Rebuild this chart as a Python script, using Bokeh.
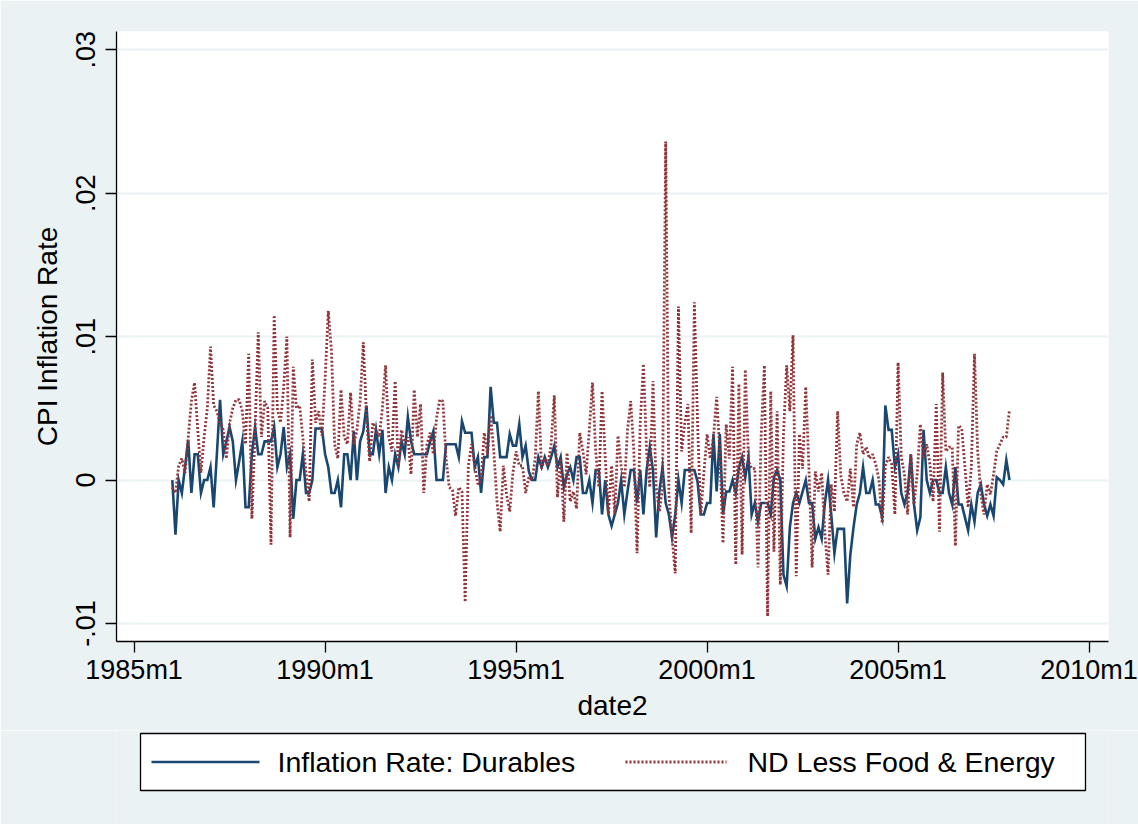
import pandas as pd
from bokeh.plotting import figure
from bokeh.layouts import column
from bokeh.models import FixedTicker, Range1d
from bokeh.core.properties import value
from bokeh.embed import file_html
from bokeh.resources import INLINE

# Monthly observations, 1986m1 .. 2007m12
months = pd.period_range("1986-01", "2007-12", freq="M")

# CPI inflation rate, durables (monthly change)
durables = [
    0.0, -0.0038, 0.0, -0.0009, 0.0009, 0.0028, -0.0009, 0.0018, 0.0018, -0.0009, 0.0, 0.0,
    0.0009, -0.0019, 0.0018, 0.0056, 0.0018, 0.0027, 0.0037, 0.0027, 0.0, 0.0013, 0.0027, -0.0019,
    -0.0019, 0.0018, 0.0037, 0.0018, 0.0018, 0.0027, 0.0027, 0.0027, 0.0037, 0.0009, 0.0018, 0.0037,
    0.0009, 0.0018, -0.0027, 0.0, 0.0, 0.0018, -0.0009, -0.0009, 0.0, 0.0036, 0.0036, 0.0036,
    0.0018, 0.0009, -0.0009, -0.0009, 0.0, -0.0019, 0.0018, 0.0018, 0.0, 0.0034, 0.0, 0.0027,
    0.0034, 0.0052, 0.0018, 0.0018, 0.0035, 0.0018, 0.0035, -0.0009, 0.0009, 0.0, 0.0018, 0.0009,
    0.0027, 0.0018, 0.0044, 0.0027, 0.0018, 0.0018, 0.0018, 0.0018, 0.0018, 0.0027, 0.0034, 0.0,
    0.0, 0.0, 0.0025, 0.0025, 0.0025, 0.0025, 0.0016, 0.0041, 0.0033, 0.0033, 0.0033, 0.0009,
    0.0016, -0.0009, 0.0016, 0.0016, 0.0065, 0.0040, 0.0040, 0.0016, 0.0016, 0.0016, 0.0032, 0.0024,
    0.0024, 0.0039, 0.0016, 0.0024, 0.0006, 0.0, 0.0, 0.0016, 0.0009, 0.0016, 0.0009, 0.0016,
    0.0024, 0.0009, 0.0016, -0.0005, 0.0004, 0.0009, 0.0, 0.0016, 0.0016, -0.0009, -0.0009, 0.0,
    -0.0016, 0.0007, 0.0007, -0.0024, 0.0, -0.0024, -0.0032, -0.0024, -0.0016, 0.0, -0.0024, -0.0008,
    0.0007, 0.0007, -0.0016, 0.0007, -0.0024, 0.0007, 0.0023, 0.0007, -0.0040, -0.0008, 0.0009, -0.0016,
    -0.0024, -0.0040, -0.0024, 0.0, -0.0016, 0.0007, 0.0007, 0.0007, 0.0007, -0.0001, -0.0024, -0.0024,
    -0.0016, -0.0016, 0.0032, -0.0008, 0.0032, -0.0024, -0.0008, -0.0008, 0.0, -0.0009, 0.0009, 0.0016,
    0.0002, 0.0016, -0.0024, -0.0016, -0.0029, -0.0016, -0.0016, -0.0016, -0.0024, 0.0002, 0.0007, 0.0,
    -0.0066, -0.0074, -0.0033, -0.0016, -0.0009, -0.0016, -0.0008, 0.0, -0.0016, -0.0016, -0.0041, -0.0033,
    -0.0041, -0.0016, 0.0, -0.0024, -0.0051, -0.0034, -0.0034, -0.0034, -0.0086, -0.0052, -0.0033, -0.0017,
    -0.0009, 0.0009, -0.0009, -0.0009, 0.0, -0.0017, -0.0017, -0.0026, 0.0052, 0.0035, 0.0035, 0.0009,
    0.0018, -0.0009, -0.0017, -0.0009, 0.0018, -0.0017, -0.0035, -0.0026, 0.0035, 0.0, -0.0009, 0.0,
    0.0, -0.0009, -0.0009, 0.0009, -0.0009, -0.0017, 0.0009, -0.0017, -0.0017, -0.0026, -0.0035, -0.0017,
    -0.0029, -0.0009, -0.0003, -0.0017, -0.0025, -0.0017, -0.0025, 0.0002, 0.0, -0.0003, 0.0014, 0.0,
]

# CPI inflation rate, nondurables less food and energy (monthly change)
nd_core = [
    -0.0005, -0.0009, 0.0010, 0.0015, 0.0005, 0.0030, 0.0055, 0.0068, 0.0035, 0.0005, 0.0030, 0.0050,
    0.0093, 0.0052, 0.0048, 0.0040, 0.0035, 0.0015, 0.0040, 0.0050, 0.0056, 0.0056, 0.0048, 0.0025,
    0.0088, -0.0027, 0.0035, 0.0103, 0.0030, 0.0055, 0.0050, -0.0045, 0.0115, 0.0050, 0.0040, 0.0065,
    0.0100, -0.0040, 0.0079, 0.0050, 0.0052, 0.0030, 0.0005, -0.0015, 0.0084, 0.0040, 0.0048, 0.0031,
    0.0070, 0.0118, 0.0090, 0.0025, 0.0015, 0.0063, 0.0030, 0.0025, 0.0061, 0.0025, 0.0035, 0.0055,
    0.0096, 0.0045, 0.0013, 0.0040, 0.0035, 0.0030, 0.0050, 0.0080, 0.0030, 0.0020, 0.0069, 0.0009,
    0.0035, 0.0025, 0.0030, 0.0004, 0.0063, 0.0030, 0.0053, -0.0009, 0.0025, 0.0033, 0.0018, 0.0043,
    0.0056, 0.0055, 0.0015, -0.0005, -0.0007, -0.0025, -0.0005, -0.0008, -0.0085, 0.0010, 0.0025, 0.0010,
    -0.0003, 0.0, 0.0033, 0.0018, 0.0045, 0.0020, -0.0015, -0.0036, 0.0010, -0.0010, -0.0022, 0.0005,
    0.0020, 0.0010, 0.0010, -0.0009, 0.0002, 0.0, 0.0015, 0.0062, 0.0008, 0.0015, 0.0010, 0.0025,
    0.0059, -0.0012, 0.0015, -0.0029, 0.0019, -0.0015, -0.0008, -0.0020, 0.0033, 0.0020, 0.0004, 0.0035,
    0.0068, 0.0020, -0.0005, 0.0062, 0.0015, -0.0024, 0.0010, -0.0024, 0.0031, 0.0010, -0.0005, 0.0035,
    0.0055, 0.0020, -0.0051, 0.0040, 0.0081, 0.0020, -0.0005, 0.0069, -0.0005, -0.0022, -0.0005, 0.0236,
    -0.0010, -0.0040, -0.0065, 0.0121, 0.0020, 0.0040, 0.0053, -0.0037, 0.0124, 0.0040, -0.0024, 0.0005,
    0.0032, 0.0015, 0.0030, 0.0058, 0.0020, -0.0044, 0.0039, 0.0015, 0.0079, -0.0059, 0.0067, -0.0052,
    0.0077, 0.0013, 0.0008, 0.0008, -0.0061, 0.0032, 0.0080, -0.0095, 0.0062, -0.0050, 0.0048, -0.0073,
    0.0032, 0.0080, 0.0048, 0.0101, -0.0067, 0.0032, 0.0008, 0.0065, 0.0008, -0.0061, 0.0006, -0.0008,
    0.0005, -0.0037, -0.0066, -0.0003, -0.0022, 0.0048, 0.0003, -0.0009, -0.0015, 0.0008, -0.0019, 0.0025,
    0.0033, 0.0018, 0.0023, 0.0015, 0.0018, 0.0011, 0.0, -0.0030, 0.0010, 0.0016, 0.0011, -0.0024,
    0.0082, 0.0016, 0.0004, -0.0024, 0.0018, -0.0017, 0.0004, 0.0039, 0.0016, 0.0025, 0.0011, -0.0015,
    0.0053, -0.0036, 0.0075, 0.0020, 0.0023, 0.0023, -0.0046, 0.0038, 0.0036, 0.0009, -0.0019, 0.0009,
    0.0088, 0.0020, -0.0010, -0.0024, -0.0003, -0.0010, 0.0004, 0.0020, 0.0025, 0.0030, 0.0030, 0.0049,
]

series_labels = ["Inflation Rate: Durables", "ND Less Food & Energy"]

# Axis ticks (monthly date codes counted from 1960m1)
x_ticks = [300, 360, 420, 480, 540, 600]
x_tick_labels = ["1985m1", "1990m1", "1995m1", "2000m1", "2005m1", "2010m1"]
y_ticks = [-0.01, 0.0, 0.01, 0.02, 0.03]
y_tick_labels = ["-.01", "0", ".01", ".02", ".03"]

date2 = [(m.year - 1960) * 12 + (m.month - 1) for m in months]

FONT = "Liberation Sans"
BG = "#EAF2F3"
NAVY = "#1A476F"
MAROON = "#90353B"
NAVY_STYLE = dict(line_color=NAVY, line_width=2.6, line_join="miter")
MAROON_STYLE = dict(line_color=MAROON, line_width=2.8, line_dash="2 2")

W = 1138
MAIN_H = 730
KEY_H = 94
LEFT, RIGHT = 116, 30

p = figure(
    width=W, height=MAIN_H,
    min_border_left=LEFT, min_border_right=RIGHT, min_border_top=31, min_border_bottom=89,
    x_range=Range1d(294.47, 606.1), y_range=Range1d(-0.011256, 0.031277),
    output_backend="svg", toolbar_location=None,
    background_fill_color="white", border_fill_color=BG,
    outline_line_color=None,
)

p.line(date2, durables, **NAVY_STYLE)
p.line(date2, nd_core, **MAROON_STYLE)

# x axis
p.xaxis.ticker = FixedTicker(ticks=x_ticks)
p.xaxis.major_label_overrides = dict(zip(x_ticks, x_tick_labels))
p.xaxis.axis_label = "date2"
p.xaxis.major_label_standoff = 2
p.xaxis.axis_label_standoff = 2

# y axis
p.yaxis.ticker = FixedTicker(ticks=y_ticks)
p.yaxis.major_label_overrides = dict(zip(y_ticks, y_tick_labels))
p.yaxis.major_label_orientation = "vertical"
p.yaxis.axis_label = "CPI Inflation Rate"
p.yaxis.major_label_standoff = 10
p.yaxis.axis_label_standoff = 11

for ax in (p.xaxis, p.yaxis):
    ax.axis_line_color = "black"
    ax.axis_line_width = 1.3
    ax.major_tick_line_color = "black"
    ax.major_tick_line_width = 1.3
    ax.major_tick_out = 11
    ax.major_tick_in = 0
    ax.minor_tick_line_color = None
    ax.major_label_text_font = FONT
    ax.major_label_text_font_size = "27px"
    ax.major_label_text_color = "black"
    ax.axis_label_text_font = FONT
    ax.axis_label_text_font_size = "28px"
    ax.axis_label_text_font_style = "normal"
    ax.axis_label_text_color = "black"

p.xgrid.visible = False
p.ygrid.ticker = FixedTicker(ticks=y_ticks)
p.ygrid.grid_line_color = BG
p.ygrid.grid_line_width = 2

# Legend strip below the chart; its frame lines up with the chart frame,
# so the x range is given in page pixels (y grows downward)
key = figure(
    width=W, height=KEY_H,
    x_range=Range1d(LEFT, W - RIGHT), y_range=Range1d(KEY_H, 0),
    min_border_left=LEFT, min_border_right=RIGHT, min_border_top=0, min_border_bottom=0,
    output_backend="svg", toolbar_location=None,
    x_axis_type=None, y_axis_type=None,
    background_fill_color=BG, border_fill_color=BG, outline_line_color=None,
)
key.xgrid.visible = False
key.ygrid.visible = False

box_left, box_right, box_top, box_bottom = 140, 1085, 3, 60
mid = (box_top + box_bottom) / 2
key.quad(left=box_left, right=box_right, top=box_top, bottom=box_bottom,
         fill_color="white", line_color="black", line_width=1.3)
key.line([151, 259], [mid, mid], **NAVY_STYLE)
key.line([625, 726], [mid, mid], **MAROON_STYLE)
key.text(x=[277, 747], y=[mid, mid], text=series_labels,
         text_font=value(FONT), text_font_size="28.5px", text_color="black",
         text_baseline="middle", text_align="left")

layout = column(p, key, spacing=0)
open("out.html", "w").write(file_html(layout, INLINE))
